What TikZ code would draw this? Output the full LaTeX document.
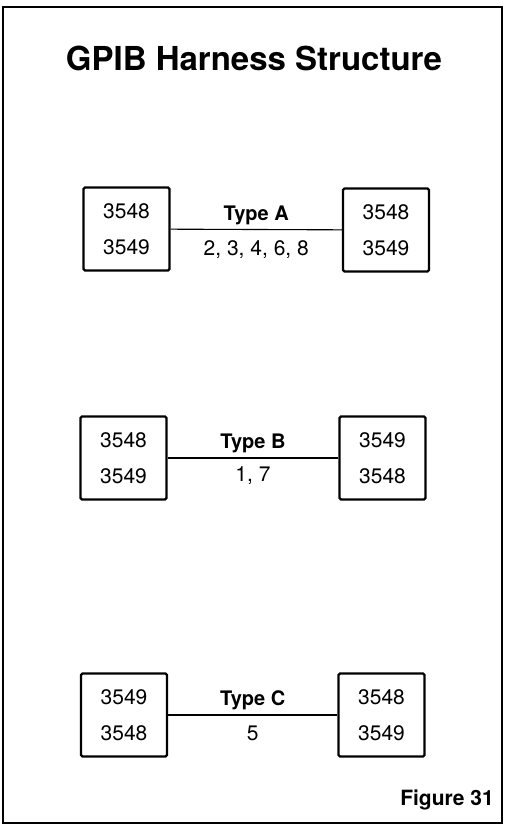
\documentclass[tikz,border=0pt]{standalone}
\usepackage{fontspec}
\setmainfont{TeX Gyre Heros}
\tikzset{
  unit/.style={draw, line width=2.3pt, rounded corners=1.5pt, minimum width=86pt,
    minimum height=83pt, align=center, font=\fontsize{21}{36}\selectfont},
  cable/.style={line width=1.1pt},
  kind/.style={font=\fontsize{20}{22}\selectfont\bfseries},
  slots/.style={font=\fontsize{21}{22}\selectfont},
}
\begin{document}
\begin{tikzpicture}[x=1pt,y=-1pt]
  \useasboundingbox (0,0) rectangle (507,825);
  \draw [line width=1.4pt] (3,7) rectangle (502,823);
  \node (title) at (254,58) {\fontsize{33}{40}\selectfont\bfseries GPIB Harness Structure};
  % type A
  \node [unit] (a1) at (126.5,229) {3548\\3549};
  \node [unit] (a2) at (386,230) {3548\\3549};
  \draw [cable] (a1) -- (a2)
    node [kind,midway,above=1pt] (ka) {Type A}
    node [slots,midway,below=7pt] (sa) {2, 3, 4, 6, 8};
  % type B
  \node [unit] (b1) at (123.5,458) {3548\\3549};
  \node [unit] (b2) at (382.5,458) {3549\\3548};
  \draw [cable] (b1) -- (b2)
    node [kind,midway,above=1pt] (kb) {Type B}
    node [slots,midway,below=5pt] (sb) {1, 7};
  % type C
  \node [unit] (c1) at (124,715) {3549\\3548};
  \node [unit] (c2) at (381.5,715) {3548\\3549};
  \draw [cable] (c1) -- (c2)
    node [kind,midway,above=1pt] (kc) {Type C}
    node [slots,midway,below=7pt] (sc) {5};
  \node [font=\fontsize{21}{22}\selectfont\bfseries] (fig) at (447,800) {Figure 31};
\end{tikzpicture}
\end{document}
